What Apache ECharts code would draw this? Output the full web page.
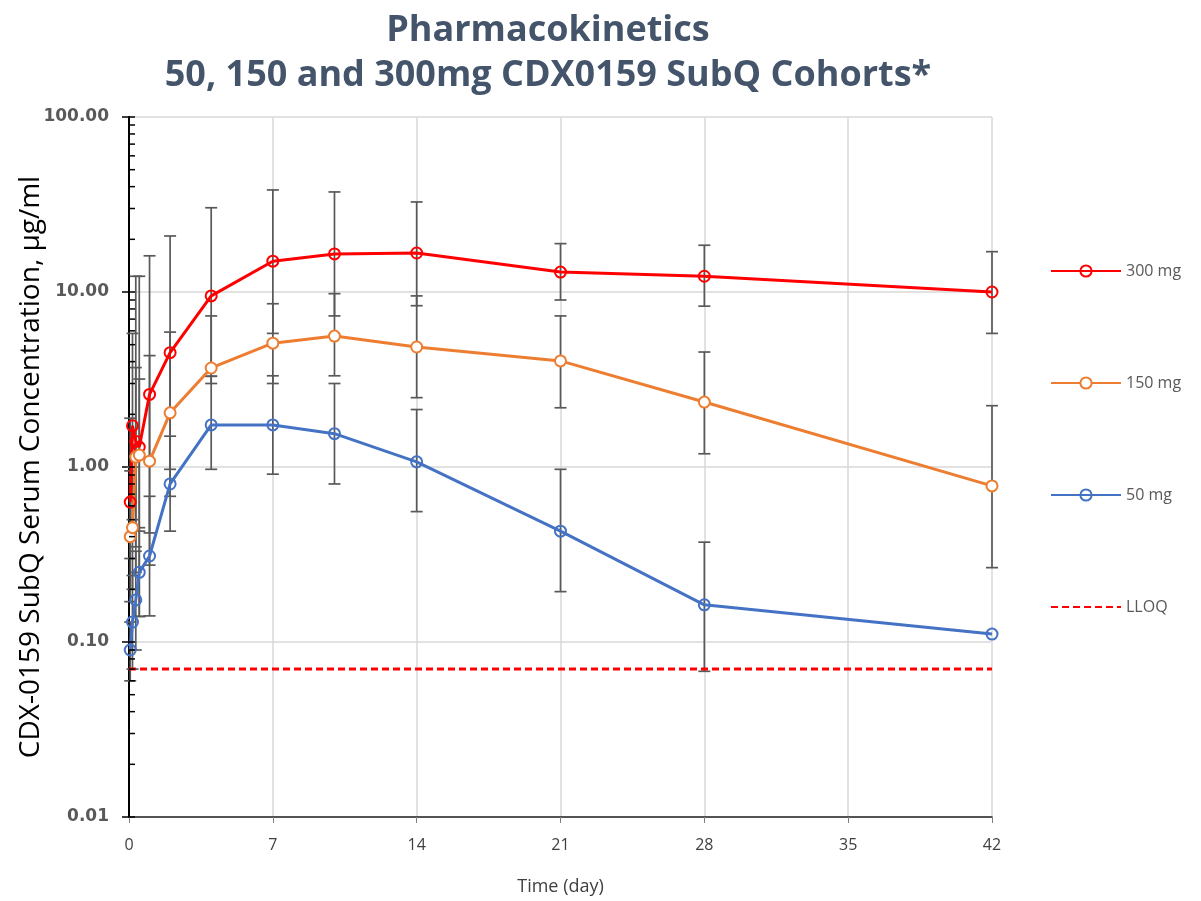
<!DOCTYPE html>
<html>
<head>
<meta charset="utf-8">
<script src="https://cdn.jsdelivr.net/npm/echarts@6/dist/echarts.min.js"></script>
<style>
  html, body { margin: 0; padding: 0; background: #fff; }
  #chart { width: 1201px; height: 901px; }
</style>
</head>
<body>
<div id="chart"></div>
<script>
// sampling times (day)
const days = [0.06, 0.17, 0.33, 0.5, 1, 2, 4, 7, 10, 14, 21, 28, 42];

// mean concentration, ug/ml
const mean300 = [0.63, 1.72, 1.4, 1.3, 2.6, 4.5, 9.5, 15.0, 16.5, 16.7, 13.0, 12.3, 10.0];
const mean150 = [0.40, 0.45, 1.14, 1.17, 1.08, 2.04, 3.68, 5.1, 5.6, 4.85, 4.04, 2.35, 0.78];
const mean50 = [0.09, 0.13, 0.174, 0.25, 0.31, 0.80, 1.74, 1.74, 1.55, 1.07, 0.43, 0.163, 0.111];

// error bar limits (low / high)
const low300 = [0.3, 0.5, 0.25, 0.14, 0.42, 0.97, 3.3, 5.8, 7.3, 8.35, 9.0, 8.3, 5.8];
const high300 = [1.9, 5.8, 12.3, 12.3, 16.1, 20.9, 30.3, 38.3, 37.3, 32.7, 18.9, 18.5, 17.0];
const low150 = [0.17, 0.2, 0.35, 0.43, 0.275, 0.68, 3.0, 3.0, 3.32, 2.49, 2.18, 1.19, 0.266];
const high150 = [0.95, 1.0, 3.7, 3.18, 4.33, 5.9, 7.3, 8.57, 9.78, 9.5, 7.3, 4.54, 2.24];
const low50 = [0.06, 0.07, 0.09, 0.14, 0.141, 0.43, 0.97, 0.91, 0.80, 0.556, 0.194, 0.068, null];
const high50 = [0.13, 0.24, 0.33, 0.45, 0.68, 1.5, 3.3, 3.32, 3.0, 2.13, 0.97, 0.372, null];

const lloq = 0.07;
const dayTicks = [0, 42];

// log axis minor ticks
const decades = [0.01, 0.1, 1, 10];
const minorSteps = [2, 3, 4, 5, 6, 7, 8, 9];

const chart = echarts.init(document.getElementById('chart'));

function pairs(ys) {
  return days.map((d, i) => [d, ys[i]]);
}
function bars(lo, hi) {
  const out = [];
  days.forEach((d, i) => {
    if (lo[i] != null && hi[i] != null) out.push([d, lo[i], hi[i]]);
  });
  return out;
}

function renderErrorBar(params, api) {
  const x = api.value(0);
  const top = api.coord([x, api.value(2)]);
  const bot = api.coord([x, api.value(1)]);
  const hw = 6;
  const style = { stroke: '#595959', lineWidth: 1.7 };
  return {
    type: 'group',
    children: [
      { type: 'line', shape: { x1: top[0], y1: top[1], x2: bot[0], y2: bot[1] }, style: style },
      { type: 'line', shape: { x1: top[0] - hw, y1: top[1], x2: top[0] + hw, y2: top[1] }, style: style },
      { type: 'line', shape: { x1: bot[0] - hw, y1: bot[1], x2: bot[0] + hw, y2: bot[1] }, style: style }
    ]
  };
}

function renderMinorTick(params, api) {
  const p = api.coord([0, api.value(1)]);
  return {
    type: 'line',
    shape: { x1: p[0], y1: p[1], x2: p[0] + 6, y2: p[1] },
    style: { stroke: '#000', lineWidth: 1.5 }
  };
}

let minorData = [];
decades.forEach(d => {
  minorData.push([0, d]);
  minorSteps.forEach(s => minorData.push([0, d * s]));
});
minorData.push([0, 100]);

function doseLine(name, color, mean, fill) {
  return {
    name: name,
    type: 'line',
    data: pairs(mean),
    symbol: 'circle',
    symbolSize: 11,
    z: 5,
    lineStyle: { color: color, width: 3 },
    itemStyle: { color: fill, borderColor: color, borderWidth: 2 },
    emphasis: { disabled: true },
    animation: false
  };
}

function errSeries(lo, hi) {
  return {
    type: 'custom',
    renderItem: renderErrorBar,
    data: bars(lo, hi),
    encode: { x: 0, y: [1, 2] },
    silent: true,
    z: 2,
    clip: false,
    animation: false
  };
}

const option = {
  backgroundColor: '#fff',
  title: {
    text: 'Pharmacokinetics\n50, 150 and 300mg CDX0159 SubQ Cohorts*',
    left: 543,
    top: 3,
    textAlign: 'center',
    textStyle: {
      fontFamily: 'Open Sans',
      fontSize: 36,
      fontWeight: 'bold',
      color: '#44546a',
      lineHeight: 45
    }
  },
  legend: {
    orient: 'vertical',
    left: 1045,
    top: 258,
    itemWidth: 70,
    itemHeight: 14,
    itemGap: 96,
    data: ['300 mg', '150 mg', '50 mg', 'LLOQ'],
    textStyle: { fontFamily: 'Open Sans', fontSize: 16, color: '#595959' },
    selectedMode: false
  },
  grid: { left: 129, top: 117, width: 863, height: 700, outerBoundsMode: 'none' },
  xAxis: {
    type: 'value',
    min: 0,
    max: 42,
    interval: 7,
    name: 'Time (day)',
    nameLocation: 'middle',
    nameGap: 61,
    nameTextStyle: { fontFamily: 'Open Sans', fontSize: 18, color: '#404040' },
    axisLine: { lineStyle: { color: '#262626', width: 1.5 } },
    axisTick: { show: true, length: 6, lineStyle: { color: '#7f7f7f' } },
    axisLabel: { fontFamily: 'Open Sans', fontSize: 16, color: '#404040', margin: 20 },
    splitLine: { show: true, lineStyle: { color: '#d9d9d9', width: 1.5 } }
  },
  yAxis: {
    type: 'log',
    logBase: 10,
    min: 0.01,
    max: 100,
    name: 'CDX-0159 SubQ Serum Concentration, μg/ml',
    nameLocation: 'middle',
    nameGap: 84,
    nameMoveOverlap: false,
    nameTextStyle: { fontFamily: 'Open Sans', fontSize: 28, color: '#000' },
    axisLine: { show: true, lineStyle: { color: '#000', width: 2 } },
    axisTick: { show: true, length: 7, lineStyle: { color: '#000', width: 1.5 } },
    axisLabel: {
      fontFamily: 'DejaVu Sans',
      fontSize: 17,
      fontWeight: 'bold',
      color: '#595959',
      margin: 20,
      formatter: v => Number(v).toFixed(2)
    },
    splitLine: { show: true, lineStyle: { color: '#d9d9d9', width: 1.5 } }
  },
  series: [
    errSeries(low300, high300),
    errSeries(low150, high150),
    errSeries(low50, high50),
    doseLine('300 mg', '#ff0000', mean300, 'rgba(0,0,0,0)'),
    doseLine('150 mg', '#ed7d31', mean150, '#ffffff'),
    doseLine('50 mg', '#4472c4', mean50, 'rgba(0,0,0,0)'),
    {
      name: 'LLOQ',
      type: 'line',
      data: dayTicks.map(d => [d, lloq]),
      symbol: 'none',
      z: 4,
      lineStyle: { color: '#ff0000', width: 3, type: [7, 4] },
      itemStyle: { color: 'rgba(0,0,0,0)', borderColor: 'rgba(0,0,0,0)', borderWidth: 0 },
      emphasis: { disabled: true },
      animation: false
    },
    {
      type: 'custom',
      renderItem: renderMinorTick,
      data: minorData,
      encode: { x: 0, y: 1 },
      silent: true,
      clip: false,
      z: 6,
      animation: false
    }
  ]
};

chart.setOption(option);
</script>
</body>
</html>
